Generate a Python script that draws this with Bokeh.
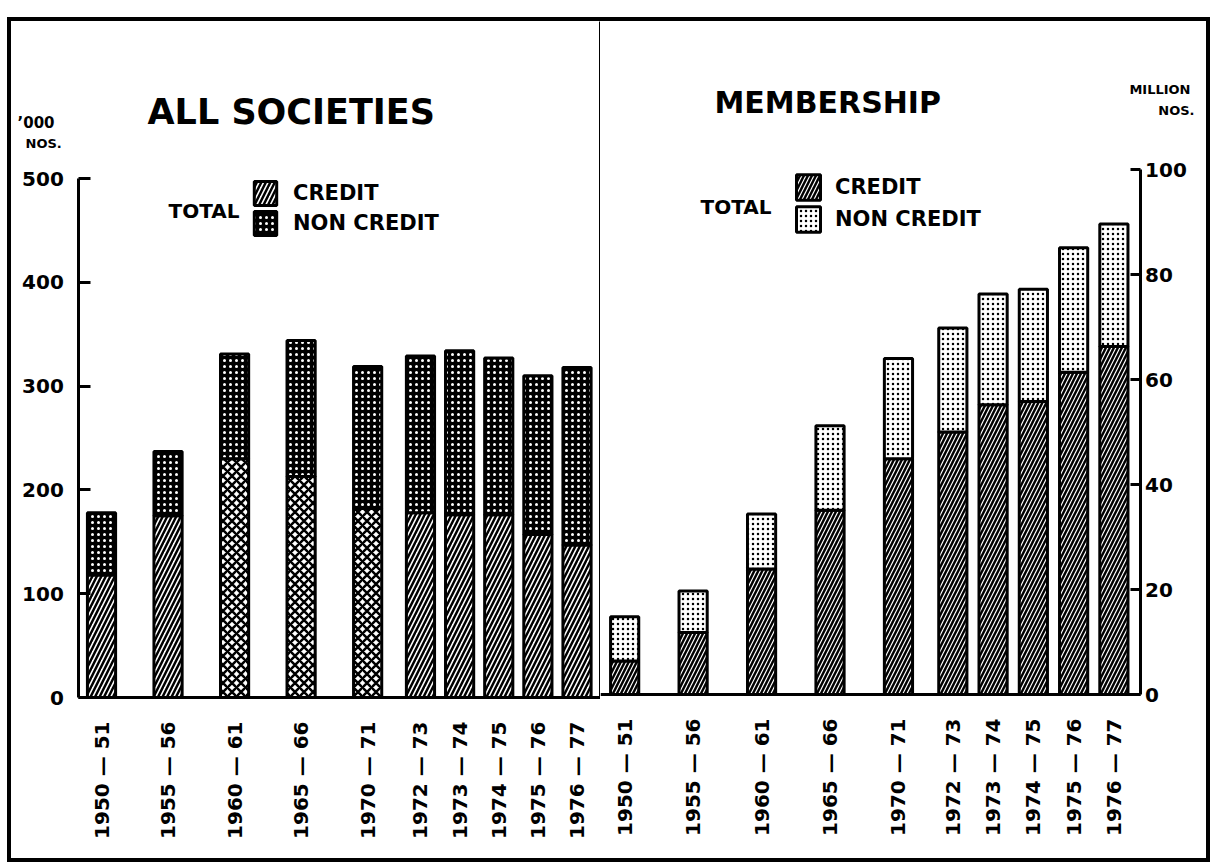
import math
from bokeh.plotting import figure
from bokeh.models import (ColumnDataSource, FactorRange, Range1d, LinearAxis,
                          FixedTicker, Label, Legend, LegendItem, Row)
from bokeh.transform import stack
from bokeh.core.properties import field
from bokeh.embed import file_html
from bokeh.resources import INLINE

FONT = "DejaVu Sans"

# ---------------- data ----------------
periods = ["1950 — 51", "1955 — 56", "1960 — 61", "1965 — 66", "1970 — 71",
           "1972 — 73", "1973 — 74", "1974 — 75", "1975 — 76", "1976 — 77"]
# grouping used only to reproduce the uneven spacing of the periods
top_groups = ["t1", "t2", "t3", "t4", "t5", "t5", "t5", "t5", "t5", "t5"]
sub_groups = ["s1", "s1", "s1", "s1", "s1", "s2", "s2", "s2", "s2", "s2"]

# All societies ('000 nos.)
societies_credit = [118, 175, 230, 213, 182, 178, 176, 176, 157, 147]
societies_noncredit = [60, 62, 101, 131, 137, 151, 158, 151, 153, 171]

# Membership (million nos.)
members_credit = [6.4, 11.8, 23.9, 35.1, 44.9, 50.0, 55.2, 55.8, 61.4, 66.3]
members_noncredit = [8.4, 7.9, 10.5, 16.1, 19.1, 19.8, 21.1, 21.4, 23.7, 23.3]

left_ticks = [0, 100, 200, 300, 400, 500]
right_ticks = [0, 20, 40, 60, 80, 100]

# styles
left_credit_hatch = ["right_diagonal_line", "right_diagonal_line", "diagonal_cross",
                     "diagonal_cross", "diagonal_cross", "right_diagonal_line",
                     "right_diagonal_line", "right_diagonal_line",
                     "right_diagonal_line", "right_diagonal_line"]

factors = list(zip(top_groups, sub_groups, periods))
# blank slots that leave room for the value axes inside the frames
left_factors = [("t0", "s0", " ")] + factors
right_factors = factors + [("t9", "s9", " ")]

FIG_H = 837


def base_figure(width, facs, y_start, y_end, axis_bounds, **kw):
    p = figure(width=width, height=FIG_H,
               x_range=FactorRange(factors=facs, group_padding=0.7,
                                   subgroup_padding=0.35, factor_padding=0.0,
                                   range_padding=0.1,
                                   range_padding_units="absolute"),
               y_range=Range1d(y_start, y_end),
               output_backend="svg", toolbar_location=None,
               min_border_top=0, min_border_left=0, min_border_right=0,
               min_border_bottom=0, outline_line_color=None,
               background_fill_color="white", border_fill_color="white", **kw)
    p.xgrid.visible = False
    p.ygrid.visible = False
    xa = p.xaxis[0]
    xa.fixed_location = 0
    xa.bounds = axis_bounds
    xa.major_label_orientation = math.pi / 2
    xa.major_label_text_font = FONT
    xa.major_label_text_font_style = "bold"
    xa.major_label_text_font_size = "20px"
    xa.major_label_text_color = "black"
    xa.major_label_standoff = 18
    xa.major_tick_line_color = None
    xa.minor_tick_line_color = None
    xa.axis_line_width = 3
    xa.axis_line_color = "black"
    xa.group_text_font_size = "0px"
    xa.group_text_color = None
    xa.subgroup_text_font_size = "0px"
    xa.subgroup_text_color = None
    xa.separator_line_color = None
    return p


def style_yaxis(ax, ticks, standoff, tick_in, loc):
    ax.fixed_location = loc
    ax.ticker = FixedTicker(ticks=ticks)
    ax.bounds = (ticks[0], ticks[-1])
    ax.major_tick_in = tick_in
    ax.major_tick_out = 0
    ax.minor_tick_line_color = None
    ax.major_tick_line_width = 3
    ax.axis_line_width = 3
    ax.axis_line_color = "black"
    ax.major_tick_line_color = "black"
    ax.major_label_text_font = FONT
    ax.major_label_text_font_style = "bold"
    ax.major_label_text_font_size = "20px"
    ax.major_label_text_color = "black"
    ax.major_label_standoff = standoff


def text(p, txt, x, y, size, align="left"):
    p.add_layout(Label(x=x, y=y, x_units="screen", y_units="screen", text=txt,
                       text_font=FONT, text_font_style="bold",
                       text_font_size=size, text_baseline="middle",
                       text_align=align, text_color="black"))


def legend(p, r_credit, r_non, loc, gw, gh, standoff):
    lg = Legend(items=[LegendItem(label="CREDIT", renderers=[r_credit]),
                       LegendItem(label="NON CREDIT", renderers=[r_non])],
                location=loc, orientation="vertical", spacing=0, padding=0,
                margin=0, glyph_width=gw, glyph_height=gh, label_height=gh,
                label_standoff=standoff, label_text_font=FONT,
                label_text_font_style="bold", label_text_font_size="21px",
                label_text_color="black",
                border_line_color=None, background_fill_alpha=0)
    p.add_layout(lg)


# ---------------- left panel: all societies ----------------
L_PX = 519 / 500          # pixels per '000 societies
left_src = ColumnDataSource(dict(x=factors, credit=societies_credit,
                                 non_credit=societies_noncredit,
                                 hatch=left_credit_hatch))
p1 = base_figure(589, left_factors, -161 / L_PX, 676 / L_PX, (1.62, 100))
style_yaxis(p1.yaxis[0], left_ticks, 15, 12, 1.62)
# divider between the two panels (stops at the base line)
p1.add_layout(LinearAxis(ticker=FixedTicker(ticks=[]), axis_line_width=3,
                         bounds=(0, 676 / L_PX),
                         major_tick_in=0, major_tick_out=0, minor_tick_in=0,
                         minor_tick_out=0, major_label_text_font_size="0px",
                         major_label_standoff=0), "right")

l1 = p1.vbar(x="x", bottom=0, top="credit", width=0.72, source=left_src,
             fill_color="white", line_color="black", line_width=3,
             hatch_pattern=field("hatch"), hatch_color="black",
             hatch_scale=9, hatch_weight=2.5)
l2 = p1.vbar(x="x", bottom=stack("credit"), top=stack("credit", "non_credit"),
             width=0.72, source=left_src, fill_color="black",
             line_color="black", line_width=3, hatch_pattern="dot",
             hatch_color="white", hatch_scale=6, hatch_weight=3)
legend(p1, l1, l2, (240, 620), 28, 30, 14)
text(p1, "ALL SOCIETIES", 136, 747, "35px")
text(p1, "’000", 6, 736, "15px")
text(p1, "NOS.", 14, 715, "13px")
text(p1, "TOTAL", 157, 648, "20px")

# ---------------- right panel: membership ----------------
R_PX = 525 / 100          # pixels per million members
right_src = ColumnDataSource(dict(x=factors, credit=members_credit,
                                  non_credit=members_noncredit))
p2 = base_figure(606, right_factors, -164 / R_PX, 673 / R_PX, (-100, 13.3),
                 y_axis_location="right")
style_yaxis(p2.yaxis[0], right_ticks, 5, 10, 13.3)

r1 = p2.vbar(x="x", bottom=0, top="credit", width=0.7, source=right_src,
             fill_color="black", line_color="black", line_width=3,
             hatch_pattern="right_diagonal_line", hatch_color="white",
             hatch_scale=8, hatch_weight=1.2)
r2 = p2.vbar(x="x", bottom=stack("credit"), top=stack("credit", "non_credit"),
             width=0.7, source=right_src, fill_color="white",
             line_color="black", line_width=3, hatch_pattern="dot",
             hatch_color="black", hatch_scale=5, hatch_weight=3.5)
legend(p2, r1, r2, (193, 623), 30, 32, 12)
text(p2, "MEMBERSHIP", 114, 756, "30px")
text(p2, "MILLION", 590, 769, "13px", align="right")
text(p2, "NOS.", 594, 748, "13px", align="right")
text(p2, "TOTAL", 100, 652, "20px")

layout = Row(children=[p1, p2], margin=(17, 0, 0, 7),
             styles={"border": "4px solid black"})

open("out.html", "w").write(file_html(layout, INLINE))
